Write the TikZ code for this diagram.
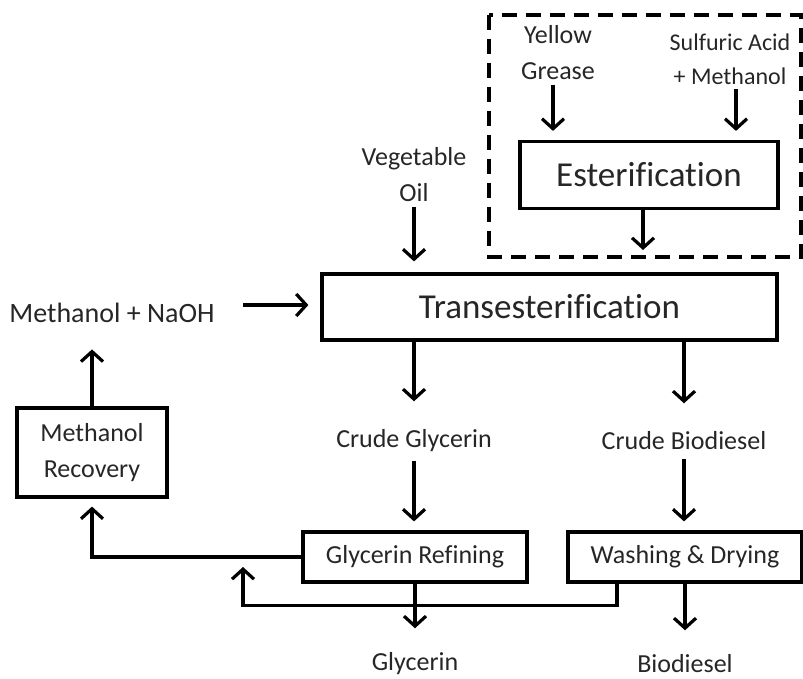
\documentclass[tikz,border=0pt]{standalone}
\usepackage{fontspec}
\setmainfont[Ligatures=NoCommon]{Carlito}
\usetikzlibrary{arrows.meta}

\begin{document}
\begin{tikzpicture}[x=1pt,y=-1pt,line width=3.2pt,
  every node/.style={inner sep=3pt,align=center,text=black!85,font=\fontsize{26}{36}\selectfont},
  big/.style={font=\fontsize{35}{40}\selectfont},
  box/.style={draw=black,inner sep=0pt},
  arr/.style={-{Straight Barb[length=10pt,width=22pt]}}]
  \useasboundingbox (0,0) rectangle (803,678);
  % esterification (optional pretreatment)
  \draw[line width=3.5pt,dash pattern=on 15pt off 9pt] (489,15) rectangle (801,257);
  \node (yellow) at (558,53) {Yellow\\Grease};
  \node[font=\fontsize{24}{34}\selectfont] (sulf) at (730,59) {Sulfuric Acid\\+ Methanol};
  \node[box,big,minimum width=258,minimum height=67] (ester) at (649,175) {Esterification};
  \coordinate (esterout) at (643,250);
  \draw[arr,shorten >=9] ([xshift=-5]yellow.south) -- ([xshift=-5]yellow.south |- ester.north);
  \draw[arr,shorten >=9] ([xshift=6]sulf.south) -- ([xshift=6]sulf.south |- ester.north);
  \draw[arr] (ester.south -| esterout) -- (esterout);
  % transesterification
  \node (vegoil) at (414,175) {Vegetable\\Oil};
  \node[box,big,minimum width=455,minimum height=66] (trans) at (549.5,307) {Transesterification};
  \node[font=\fontsize{28}{34}\selectfont] (meoh) at (112,313) {Methanol + NaOH};
  \coordinate (feed) at (243,305);
  \draw[arr,shorten >=11] (vegoil.south) -- (vegoil.south |- trans.north);
  \draw[arr,shorten >=12] (feed) -- (feed -| trans.west);
  % products
  \node (crudegly) at (414,441) {Crude Glycerin};
  \node (crudebio) at (684,441) {Crude Biodiesel};
  \draw[arr,shorten >=24] (trans.south -| crudegly) -- (crudegly.north);
  \draw[arr,shorten >=24] (trans.south -| crudebio) -- (crudebio.north);
  \node[box,minimum width=224,minimum height=50] (glyref) at (415,557) {Glycerin Refining};
  \node[box,minimum width=234,minimum height=50] (washdry) at (685,557) {Washing \& Drying};
  \draw[arr,shorten <=4,shorten >=9] (crudegly.south) -- (crudegly.south |- glyref.north);
  \draw[arr,shorten <=4,shorten >=9] (crudebio.south) -- (crudebio.south |- washdry.north);
  \node (glycerin) at (415,664) {Glycerin};
  \node (biodiesel) at (685,664) {Biodiesel};
  \draw[arr,shorten >=20] (glyref.south) -- (glycerin.north);
  \draw[arr,shorten >=20] (washdry.south) -- (biodiesel.north);
  % methanol recovery loop
  \node[box,minimum width=150,minimum height=89] (meohrec) at (92,452.5) {Methanol\\Recovery};
  \coordinate (recyc) at (243,567);
  \draw[arr,shorten >=22] (meohrec.north) -- (meohrec.north |- meoh.south);
  \draw[arr,shorten >=8] (glyref.west) -| (meohrec.south);
  \draw[arr] ([xshift=-68]washdry.south) -- ++(0,22) -| (recyc);
\end{tikzpicture}
\end{document}
